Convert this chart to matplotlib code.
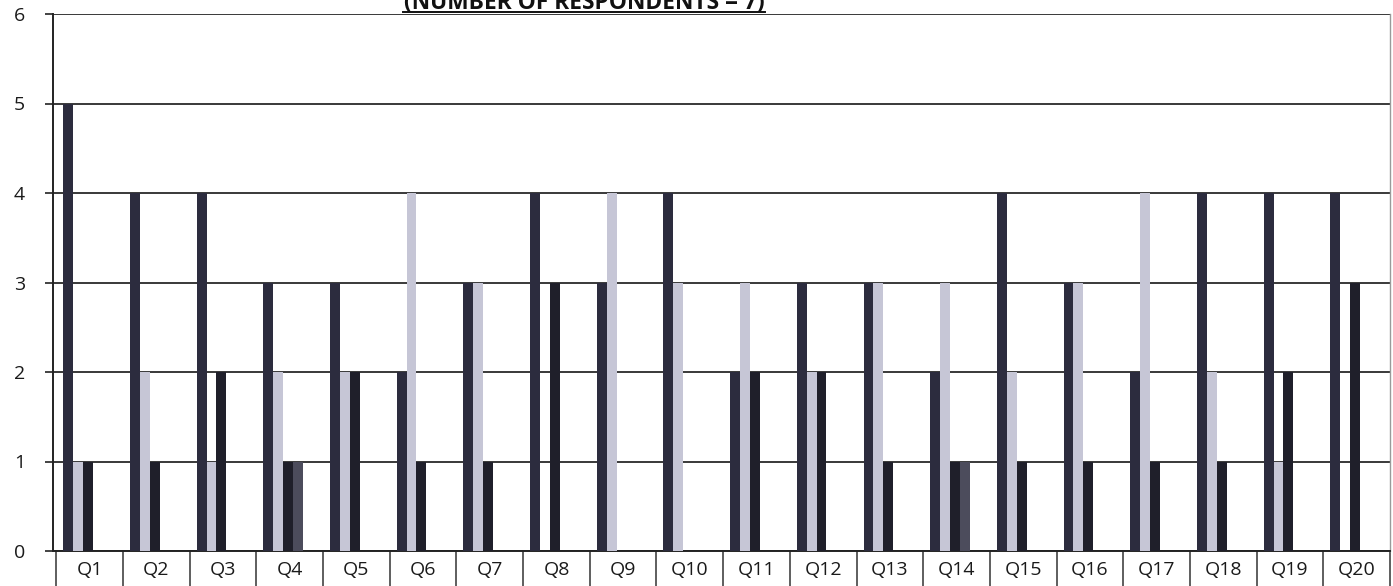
import matplotlib
matplotlib.use("Agg")
import matplotlib.pyplot as plt
import numpy as np

questions = ["Q1", "Q2", "Q3", "Q4", "Q5", "Q6", "Q7", "Q8", "Q9", "Q10",
             "Q11", "Q12", "Q13", "Q14", "Q15", "Q16", "Q17", "Q18", "Q19", "Q20"]
series_1 = [5, 4, 4, 3, 3, 2, 3, 4, 3, 4, 2, 3, 3, 2, 4, 3, 2, 4, 4, 4]
series_2 = [1, 2, 1, 2, 2, 4, 3, 0, 4, 3, 3, 2, 3, 3, 2, 3, 4, 2, 1, 0]
series_3 = [1, 1, 2, 1, 2, 1, 1, 3, 0, 0, 2, 2, 1, 1, 1, 1, 1, 1, 2, 3]
series_4 = [0, 0, 0, 1, 0, 0, 0, 0, 0, 0, 0, 0, 0, 1, 0, 0, 0, 0, 0, 0]
y_ticks = [0, 1, 2, 3, 4, 5, 6]
title_text = "(NUMBER OF RESPONDENTS = 7)"

W, H = 1393, 586
fig = plt.figure(figsize=(W / 100, H / 100), dpi=100)
ax_left, ax_right = 53, 1390
ax_bottom, ax_top = 551, 14
ax = fig.add_axes([ax_left / W, 1 - ax_bottom / H,
                   (ax_right - ax_left) / W, (ax_bottom - ax_top) / H])

colors = ["#2c2c3e", "#c6c6d6", "#1f1f2a", "#4c4c5c"]
x = np.arange(len(questions))
bw = 0.148
start = -0.395
offsets = [start + i * bw for i in range(4)]
for vals, off, c in zip([series_1, series_2, series_3, series_4], offsets, colors):
    ax.bar(x + off, vals, width=bw, align="edge", color=c, edgecolor="none", zorder=3)

ax.set_ylim(0, 6)
ax.set_xlim(-0.55, 19.38)
ax.set_yticks(y_ticks)
ax.set_yticklabels([str(t) for t in y_ticks], family="Open Sans", fontsize=14,
                   color="#1a1a1a")
ax.tick_params(axis="y", length=6, width=1.2, color="#222222", pad=14)
ax.yaxis.grid(True, color="#2a2a2a", linewidth=1.3, zorder=1)
ax.set_axisbelow(True)

ax.set_xticks(x)
ax.set_xticklabels(questions, family="Open Sans", fontsize=14, color="#1a1a1a")
ax.set_xticks(np.arange(-0.5, 20, 1.0), minor=True)
ax.tick_params(axis="x", which="major", length=0, pad=7)
ax.tick_params(axis="x", which="minor", length=30, width=1.1, color="#333333")

ax.spines["top"].set_visible(False)
ax.spines["left"].set_color("#222222")
ax.spines["left"].set_linewidth(1.4)
ax.spines["bottom"].set_color("#222222")
ax.spines["bottom"].set_linewidth(1.4)
ax.spines["right"].set_color("#9a9a9a")
ax.spines["right"].set_linewidth(1.0)

# title, only its lower part lies inside the scanned page
fig.text(584 / W, 1 - 9 / H, title_text, ha="center", va="baseline",
         family="Open Sans", fontweight="bold", fontsize=16.4, color="#111111")
fig.add_artist(plt.Line2D([403 / W, 765 / W], [1 - 12 / H, 1 - 12 / H],
                          transform=fig.transFigure, color="#111111", linewidth=1.4))

fig.savefig("out.png", dpi=100)
